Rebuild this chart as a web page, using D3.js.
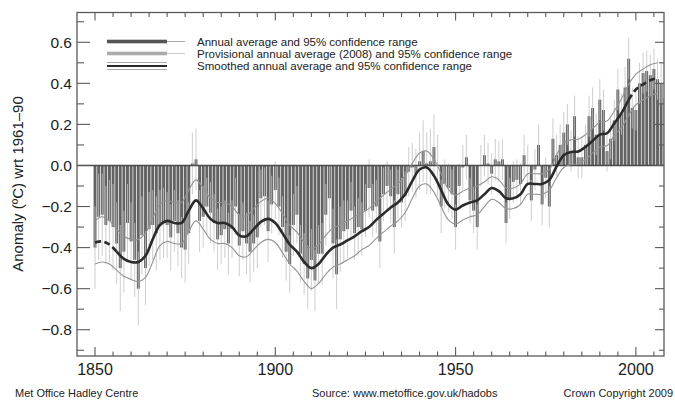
<!DOCTYPE html>
<html><head><meta charset="utf-8">
<script src="https://cdn.jsdelivr.net/npm/d3@7"></script>
<style>
body{margin:0;background:#fff}
svg{display:block}
text{font-family:"Liberation Sans",Arial,Helvetica,sans-serif;fill:#222}
</style>
</head><body>
<svg id="chart" width="675" height="400"></svg>
<script>
// ---------- data ----------
const firstYear = 1850;
const provisionalYear = 2008;
const anomaly = [
 -0.40,-0.25,-0.24,-0.29,-0.27,-0.30,-0.38,-0.50,-0.42,-0.28,
 -0.37,-0.46,-0.60,-0.34,-0.50,-0.31,-0.29,-0.33,-0.29,-0.28,
 -0.29,-0.35,-0.27,-0.33,-0.40,-0.41,-0.33, 0.01, 0.03,-0.27,
 -0.25,-0.20,-0.23,-0.28,-0.36,-0.34,-0.31,-0.38,-0.31,-0.20,
 -0.39,-0.32,-0.38,-0.42,-0.38,-0.35,-0.16,-0.15,-0.32,-0.19,
 -0.12,-0.20,-0.30,-0.42,-0.48,-0.29,-0.24,-0.43,-0.48,-0.55,
 -0.46,-0.56,-0.43,-0.43,-0.24,-0.16,-0.38,-0.53,-0.36,-0.32,
 -0.31,-0.22,-0.33,-0.30,-0.31,-0.22,-0.11,-0.22,-0.20,-0.37,
 -0.14,-0.10,-0.15,-0.30,-0.14,-0.18,-0.15,-0.03,-0.01,-0.04,
  0.02, 0.07, 0.01, 0.02, 0.09, 0.00,-0.20,-0.09,-0.11,-0.14,
 -0.30,-0.10,-0.01, 0.04,-0.17,-0.22,-0.30, 0.00, 0.05, 0.01,
 -0.04, 0.03, 0.02, 0.03,-0.28,-0.16,-0.08,-0.07,-0.09, 0.05,
  0.00,-0.17,-0.02, 0.10,-0.19,-0.06,-0.20, 0.13, 0.05, 0.10,
  0.16, 0.20, 0.07, 0.24, 0.04, 0.04, 0.10, 0.24, 0.28, 0.15,
  0.32, 0.27, 0.07, 0.13, 0.22, 0.37, 0.25, 0.38, 0.52, 0.28,
  0.27, 0.40, 0.45, 0.46, 0.44, 0.47, 0.42, 0.40, 0.33
];
const uncertainty = [
 0.20,0.21,0.20,0.19,0.20,0.21,0.20,0.21,0.20,0.19,
 0.19,0.18,0.18,0.19,0.18,0.18,0.17,0.18,0.17,0.17,
 0.16,0.16,0.15,0.16,0.15,0.16,0.15,0.15,0.15,0.15,
 0.15,0.14,0.15,0.14,0.15,0.14,0.14,0.15,0.14,0.14,
 0.15,0.14,0.15,0.15,0.14,0.15,0.14,0.14,0.15,0.14,
 0.14,0.14,0.15,0.14,0.14,0.15,0.14,0.14,0.15,0.15,
 0.15,0.15,0.14,0.15,0.15,0.16,0.17,0.17,0.16,0.15,
 0.14,0.14,0.13,0.14,0.13,0.13,0.14,0.13,0.13,0.13,
 0.13,0.12,0.13,0.13,0.12,0.12,0.12,0.12,0.12,0.12,
 0.14,0.15,0.15,0.16,0.16,0.15,0.13,0.12,0.12,0.12,
 0.11,0.11,0.11,0.11,0.11,0.11,0.11,0.10,0.10,0.10,
 0.10,0.10,0.10,0.10,0.10,0.10,0.10,0.10,0.10,0.10,
 0.10,0.10,0.10,0.10,0.10,0.10,0.10,0.10,0.10,0.10,
 0.10,0.10,0.10,0.10,0.10,0.10,0.10,0.10,0.10,0.10,
 0.10,0.10,0.10,0.10,0.10,0.10,0.10,0.10,0.10,0.10,
 0.10,0.10,0.10,0.10,0.10,0.10,0.10,0.10,0.10
];
const smoothYears = [
 1850,1852,1854,1856,1858,1860,1862,1864,1866,1868,1870,1872,1874,1876,1878,1880,
 1882,1884,1886,1888,1890,1892,1894,1896,1898,1900,1902,1904,1906,1908,1910,1912,
 1914,1916,1918,1920,1922,1924,1926,1928,1930,1932,1934,1936,1938,1940,1942,1944,
 1946,1948,1950,1952,1954,1956,1958,1960,1962,1964,1966,1968,1970,1972,1974,1976,
 1978,1980,1982,1984,1986,1988,1990,1992,1994,1996,1998,2000,2002,2004,2006
];
const smoothMid = [
 -0.375,-0.37,-0.385,-0.42,-0.455,-0.47,-0.47,-0.44,-0.36,-0.29,-0.27,-0.28,-0.28,-0.22,-0.17,-0.21,
 -0.26,-0.28,-0.28,-0.30,-0.34,-0.345,-0.31,-0.275,-0.26,-0.28,-0.33,-0.385,-0.42,-0.47,-0.50,-0.48,
 -0.435,-0.40,-0.385,-0.365,-0.345,-0.32,-0.30,-0.265,-0.235,-0.205,-0.18,-0.14,-0.075,-0.02,-0.01,-0.05,
 -0.12,-0.19,-0.215,-0.195,-0.18,-0.17,-0.14,-0.11,-0.125,-0.16,-0.16,-0.14,-0.09,-0.09,-0.09,-0.07,
 -0.005,0.05,0.066,0.068,0.09,0.12,0.15,0.157,0.205,0.255,0.32,0.37,0.395,0.415,0.425
];
const smoothUpper = [
 -0.27,-0.25,-0.27,-0.31,-0.345,-0.36,-0.36,-0.33,-0.255,-0.19,-0.17,-0.18,-0.18,-0.12,-0.07,-0.11,
 -0.16,-0.18,-0.18,-0.20,-0.24,-0.245,-0.21,-0.175,-0.16,-0.185,-0.235,-0.29,-0.325,-0.375,-0.405,-0.385,
 -0.34,-0.305,-0.29,-0.27,-0.25,-0.23,-0.21,-0.175,-0.145,-0.115,-0.09,-0.05,0.01,0.06,0.07,0.03,
 -0.04,-0.115,-0.145,-0.125,-0.11,-0.10,-0.08,-0.055,-0.07,-0.11,-0.11,-0.09,-0.04,-0.04,-0.04,-0.02,
 0.05,0.11,0.125,0.128,0.15,0.18,0.21,0.217,0.265,0.325,0.395,0.445,0.47,0.49,0.50
];
const smoothLower = [
 -0.48,-0.47,-0.48,-0.51,-0.54,-0.555,-0.565,-0.545,-0.47,-0.39,-0.37,-0.38,-0.38,-0.32,-0.27,-0.31,
 -0.36,-0.38,-0.38,-0.40,-0.44,-0.445,-0.41,-0.375,-0.36,-0.375,-0.425,-0.48,-0.515,-0.565,-0.60,-0.575,
 -0.53,-0.495,-0.48,-0.46,-0.44,-0.41,-0.39,-0.355,-0.325,-0.295,-0.27,-0.23,-0.16,-0.10,-0.09,-0.13,
 -0.20,-0.265,-0.285,-0.265,-0.25,-0.24,-0.20,-0.165,-0.18,-0.21,-0.21,-0.19,-0.14,-0.14,-0.14,-0.12,
 -0.06,-0.01,0.005,0.008,0.03,0.06,0.09,0.097,0.145,0.185,0.245,0.295,0.32,0.34,0.35
];
const yTickValues = [-0.8,-0.6,-0.4,-0.2,0.0,0.2,0.4,0.6];
const xTickValues = [1850,1900,1950,2000];
const legendLabels = [
 "Annual average and 95% confidence range",
 "Provisional annual average (2008) and 95% confidence range",
 "Smoothed annual average and 95% confidence range"
];
const yTitle = "Anomaly (\u00baC) wrt 1961\u201390";
const footerLeft = "Met Office Hadley Centre";
const footerMid = "Source: www.metoffice.gov.uk/hadobs";
const footerRight = "Crown Copyright 2009";

// ---------- build ----------
const years = anomaly.map((d, i) => firstYear + i);
const bars = years.map((yr, i) => ({year: yr, v: anomaly[i], e: uncertainty[i]}));
const smooth = smoothYears.map((yr, i) => ({year: yr, m: smoothMid[i], u: smoothUpper[i], l: smoothLower[i]}));

const L = 77, R = 664, T = 12.5, B = 356;
const svg = d3.select("#chart");
const x = d3.scaleLinear().domain([1845, 2007.8]).range([L, R]);
const y = d3.scaleLinear().domain([-0.928, 0.745]).range([B, T]);

svg.append("defs").append("clipPath").attr("id", "plot")
  .append("rect").attr("x", L).attr("y", T).attr("width", R - L).attr("height", B - T);

const g = svg.append("g").attr("clip-path", "url(#plot)");

// bars
const bw = 2.9;
g.selectAll("rect.bar").data(bars).join("rect")
  .attr("class", "bar")
  .attr("x", d => x(d.year) - bw / 2)
  .attr("width", bw)
  .attr("y", d => y(Math.max(0, d.v)))
  .attr("height", d => Math.abs(y(d.v) - y(0)))
  .attr("fill", d => d.year === provisionalYear ? "#a8a8a8" : "#636363");

// error bars
g.selectAll("line.err").data(bars).join("line")
  .attr("class", "err")
  .attr("x1", d => x(d.year)).attr("x2", d => x(d.year))
  .attr("y1", d => y(d.v - d.e)).attr("y2", d => y(d.v + d.e))
  .attr("stroke", d => d.year === provisionalYear ? "#d8d8d8" : "#c2c2c2")
  .attr("stroke-width", 0.8);

// zero line
g.append("line").attr("x1", L).attr("x2", R).attr("y1", y(0)).attr("y2", y(0))
  .attr("stroke", "#4a4a4a").attr("stroke-width", 1.6);

// smoothed + CI
const curve = d3.curveCatmullRom;
const lineU = d3.line().x(d => x(d.year)).y(d => y(d.u)).curve(curve);
const lineL = d3.line().x(d => x(d.year)).y(d => y(d.l)).curve(curve);
const lineM = d3.line().x(d => x(d.year)).y(d => y(d.m)).curve(curve);
g.append("path").attr("d", lineU(smooth)).attr("fill", "none").attr("stroke", "#939393").attr("stroke-width", 1.1);
g.append("path").attr("d", lineL(smooth)).attr("fill", "none").attr("stroke", "#939393").attr("stroke-width", 1.1);
const early = smooth.filter(d => d.year <= 1856);
const mid = smooth.filter(d => d.year >= 1856 && d.year <= 1998);
const late = smooth.filter(d => d.year >= 1998);
g.append("path").attr("d", lineM(mid)).attr("fill", "none").attr("stroke", "#2b2b2b").attr("stroke-width", 2.6);
[early, late].forEach(seg => {
  g.append("path").attr("d", lineM(seg)).attr("fill", "none").attr("stroke", "#2b2b2b")
    .attr("stroke-width", 2.6).attr("stroke-dasharray", "6,3.5");
});

// frame
svg.append("rect").attr("x", L).attr("y", T).attr("width", R - L).attr("height", B - T)
  .attr("fill", "none").attr("stroke", "#5a5a5a").attr("stroke-width", 1.3);

// ticks
const tk = svg.append("g").attr("stroke", "#5a5a5a").attr("stroke-width", 1.1);
const yMinor = d3.range(-9, 8).map(k => k / 10);
yMinor.forEach(v => {
  const major = yTickValues.some(t => Math.abs(t - v) < 1e-9);
  const len = major ? 13 : 7;
  tk.append("line").attr("x1", L).attr("x2", L + len).attr("y1", y(v)).attr("y2", y(v));
  tk.append("line").attr("x1", R).attr("x2", R - (major ? 9 : 5)).attr("y1", y(v)).attr("y2", y(v));
});
const xMinor = d3.range(1850, 2006, 5);
xMinor.forEach(yr => {
  const major = xTickValues.includes(yr);
  tk.append("line").attr("x1", x(yr)).attr("x2", x(yr)).attr("y1", B).attr("y2", B - (major ? 9 : 4.5));
  tk.append("line").attr("x1", x(yr)).attr("x2", x(yr)).attr("y1", T).attr("y2", T + (major ? 8 : 4.5));
});

// tick labels
const fmt = d3.format(".1f");
svg.selectAll("text.ylab").data(yTickValues).join("text")
  .attr("class", "ylab")
  .attr("x", 72).attr("y", d => y(d) + 5.5)
  .attr("text-anchor", "end")
  .style("font-size", "15.5px")
  .text(d => fmt(d).replace("-", "\u2212"));
svg.selectAll("text.xlab").data(xTickValues).join("text")
  .attr("class", "xlab")
  .attr("x", d => x(d)).attr("y", 375)
  .attr("text-anchor", "middle")
  .style("font-size", "16px")
  .text(d => d);

// axis title
svg.append("text")
  .attr("transform", "translate(23,184) rotate(-90)")
  .attr("text-anchor", "middle")
  .style("font-size", "15px")
  .text(yTitle);

// legend
const lg = svg.append("g");
const ly = [41.5, 53.5, 66];
const lx0 = 107, lx1 = 167, lx2 = 185;
lg.append("rect").attr("x", lx0).attr("y", ly[0] - 1.8).attr("width", lx1 - lx0).attr("height", 3.6).attr("fill", "#555");
lg.append("line").attr("x1", lx1).attr("x2", lx2).attr("y1", ly[0]).attr("y2", ly[0]).attr("stroke", "#aaa").attr("stroke-width", 1);
lg.append("rect").attr("x", lx0).attr("y", ly[1] - 1.8).attr("width", lx1 - lx0).attr("height", 3.6).attr("fill", "#aaa");
lg.append("line").attr("x1", lx1).attr("x2", lx2).attr("y1", ly[1]).attr("y2", ly[1]).attr("stroke", "#ccc").attr("stroke-width", 1);
lg.append("line").attr("x1", lx0).attr("x2", lx1).attr("y1", ly[2]).attr("y2", ly[2]).attr("stroke", "#2b2b2b").attr("stroke-width", 2);
[-3.5, 3.5].forEach(o => lg.append("line").attr("x1", lx0).attr("x2", lx1).attr("y1", ly[2] + o).attr("y2", ly[2] + o).attr("stroke", "#aaa").attr("stroke-width", 1));
lg.selectAll("text").data(legendLabels).join("text")
  .attr("x", 197).attr("y", (d, i) => ly[i] + 4)
  .style("font-size", "11.5px")
  .text(d => d);

// footer
svg.append("text").attr("x", 15).attr("y", 397).style("font-size", "11px").text(footerLeft);
svg.append("text").attr("x", 312).attr("y", 397).style("font-size", "11px").text(footerMid);
svg.append("text").attr("x", 673).attr("y", 397).attr("text-anchor", "end").style("font-size", "11px").text(footerRight);
</script>
</body></html>
